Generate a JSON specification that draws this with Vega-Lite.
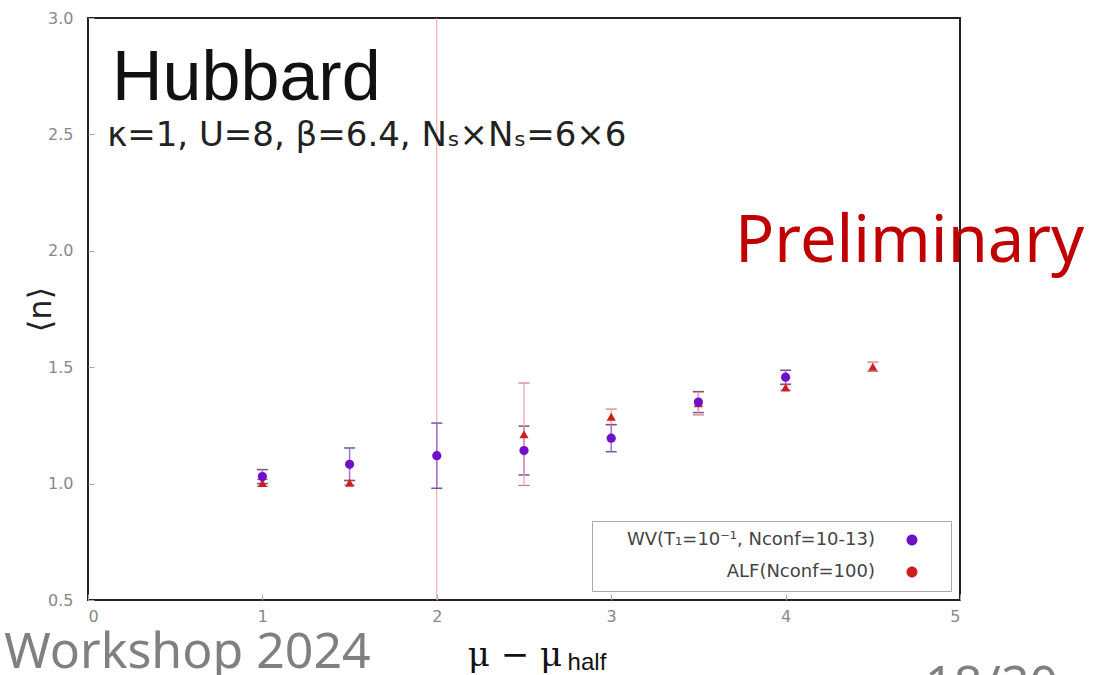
{
  "$schema": "https://vega.github.io/schema/vega-lite/v6.json",
  "width": 872,
  "height": 582,
  "autosize": "none",
  "padding": {"left": 88, "top": 18, "right": 154, "bottom": 75},
  "background": "white",
  "config": {
    "view": {"stroke": "#222", "strokeWidth": 2},
    "axis": {"domain": false, "grid": false, "labelFont": "DejaVu Sans", "labelColor": "#888", "labelFontSize": 16, "tickColor": "#aaa", "tickSize": -6}
  },
  "data": {"values": [
    {"series": "ALF(Nconf=100)", "x": 1.0, "y": 1.003, "err": 0.015},
    {"series": "ALF(Nconf=100)", "x": 1.5, "y": 1.004, "err": 0.01},
    {"series": "ALF(Nconf=100)", "x": 2.5, "y": 1.212, "err": 0.22},
    {"series": "ALF(Nconf=100)", "x": 3.0, "y": 1.287, "err": 0.033},
    {"series": "ALF(Nconf=100)", "x": 3.5, "y": 1.345, "err": 0.05},
    {"series": "ALF(Nconf=100)", "x": 4.0, "y": 1.413, "err": 0.012},
    {"series": "ALF(Nconf=100)", "x": 4.5, "y": 1.502, "err": 0.02},
    {"series": "WV(T₁=10⁻¹, Nconf=10-13)", "x": 1.0, "y": 1.03, "err": 0.03},
    {"series": "WV(T₁=10⁻¹, Nconf=10-13)", "x": 1.5, "y": 1.083, "err": 0.07},
    {"series": "WV(T₁=10⁻¹, Nconf=10-13)", "x": 2.0, "y": 1.12, "err": 0.14},
    {"series": "WV(T₁=10⁻¹, Nconf=10-13)", "x": 2.5, "y": 1.142, "err": 0.105},
    {"series": "WV(T₁=10⁻¹, Nconf=10-13)", "x": 3.0, "y": 1.195, "err": 0.058},
    {"series": "WV(T₁=10⁻¹, Nconf=10-13)", "x": 3.5, "y": 1.35, "err": 0.045},
    {"series": "WV(T₁=10⁻¹, Nconf=10-13)", "x": 4.0, "y": 1.457, "err": 0.03}
  ]},
  "layer": [
    {
      "data": {"values": [{"x": 2}]},
      "mark": {"type": "rule", "color": "#e8a0a0", "strokeWidth": 1},
      "encoding": {"x": {"field": "x", "type": "quantitative", "title": null}}
    },
    {
      "transform": [{"filter": "datum.series === 'WV(T₁=10⁻¹, Nconf=10-13)'"}],
      "mark": {"type": "errorbar", "ticks": {"color": "#3a0a70", "size": 11, "thickness": 1.5}, "rule": {"color": "#a070d8", "strokeWidth": 1.5}},
      "encoding": {
        "x": {"field": "x", "type": "quantitative", "title": null},
        "y": {"field": "y", "type": "quantitative", "title": "⟨n⟩"},
        "yError": {"field": "err"}
      }
    },
    {
      "transform": [{"filter": "datum.series === 'ALF(Nconf=100)'"}],
      "mark": {"type": "errorbar", "ticks": {"color": "#b04040", "size": 11, "thickness": 1.2}, "rule": {"color": "#eea0a8", "strokeWidth": 1.2}},
      "encoding": {
        "x": {"field": "x", "type": "quantitative", "title": null},
        "y": {"field": "y", "type": "quantitative", "title": "⟨n⟩"},
        "yError": {"field": "err"}
      }
    },
    {
      "mark": {"type": "point", "filled": true, "opacity": 1, "size": 85},
      "encoding": {
        "x": {"field": "x", "type": "quantitative", "scale": {"domain": [0, 5], "nice": false, "zero": false}, "axis": {"values": [0, 1, 2, 3, 4, 5], "format": "d", "labelPadding": 14}, "title": null},
        "y": {"field": "y", "type": "quantitative", "scale": {"domain": [0.5, 3.0], "nice": false, "zero": false}, "axis": {"values": [0.5, 1.0, 1.5, 2.0, 2.5, 3.0], "format": ".1f", "titleFont": "DejaVu Sans", "titleFontSize": 32, "titleFontWeight": "normal", "titleColor": "#222", "titlePadding": -10, "labelPadding": 21}, "title": "⟨n⟩"},
        "shape": {"condition": {"test": "datum.series === 'ALF(Nconf=100)'", "value": "triangle-up"}, "value": "circle"},
        "color": {"field": "series", "type": "nominal", "scale": {"domain": ["WV(T₁=10⁻¹, Nconf=10-13)", "ALF(Nconf=100)"], "range": ["#7010c8", "#cc2020"]},
          "legend": {
            "title": null, "orient": "bottom-right", "offset": 9, "direction": "vertical",
            "fillColor": "white", "strokeColor": "#aaa", "padding": 10,
            "labelFont": "DejaVu Sans", "labelFontSize": 18, "labelColor": "#444",
            "labelAlign": "right", "labelOffset": -46, "symbolOffset": 301, "symbolSize": 100, "rowPadding": 14,
            "labelLimit": 400,
            "symbolType": "M-5.8,0H5.8M-5.8,-0.8V0.8M5.8,-0.8V0.8M-1.1,0A1.1,1.1,0,1,0,1.1,0A1.1,1.1,0,1,0,-1.1,0Z",
            "symbolStrokeWidth": 1.2
          }}
      }
    },
    {
      "data": {"values": [{"t": "Hubbard"}]},
      "mark": {"type": "text", "align": "left", "baseline": "alphabetic", "font": "Liberation Sans", "fontSize": 70, "color": "#111"},
      "encoding": {"text": {"field": "t"}, "x": {"datum": 0.138, "type": "quantitative"}, "y": {"datum": 2.648, "type": "quantitative"}}
    },
    {
      "data": {"values": [{"t": "κ=1, U=8, β=6.4, Nₛ×Nₛ=6×6"}]},
      "mark": {"type": "text", "align": "left", "baseline": "alphabetic", "font": "DejaVu Sans", "fontSize": 34, "color": "#222"},
      "encoding": {"text": {"field": "t"}, "x": {"datum": 0.11, "type": "quantitative"}, "y": {"datum": 2.45, "type": "quantitative"}}
    },
    {
      "data": {"values": [{"t": "Preliminary"}]},
      "mark": {"type": "text", "align": "left", "baseline": "alphabetic", "font": "Noto Sans", "fontSize": 65, "color": "#c00000"},
      "encoding": {"text": {"field": "t"}, "x": {"datum": 3.71, "type": "quantitative"}, "y": {"datum": 1.952, "type": "quantitative"}}
    },
    {
      "data": {"values": [{"t": "Workshop 2024"}]},
      "mark": {"type": "text", "align": "left", "baseline": "alphabetic", "font": "Noto Sans", "fontSize": 50, "color": "#808080"},
      "encoding": {"text": {"field": "t"}, "x": {"datum": -0.48, "type": "quantitative"}, "y": {"datum": 0.21, "type": "quantitative"}}
    },
    {
      "data": {"values": [{"t": "18/20"}]},
      "mark": {"type": "text", "align": "left", "baseline": "alphabetic", "font": "Noto Sans", "fontSize": 50, "color": "#808080"},
      "encoding": {"text": {"field": "t"}, "x": {"datum": 4.8, "type": "quantitative"}, "y": {"datum": 0.068, "type": "quantitative"}}
    },
    {
      "data": {"values": [{"t": "μ − μ"}]},
      "mark": {"type": "text", "align": "center", "baseline": "alphabetic", "font": "DejaVu Serif", "fontSize": 34, "color": "#111"},
      "encoding": {"text": {"field": "t"}, "x": {"datum": 2.448, "type": "quantitative"}, "y": {"datum": 0.2165, "type": "quantitative"}}
    },
    {
      "data": {"values": [{"t": "half"}]},
      "mark": {"type": "text", "align": "left", "baseline": "alphabetic", "font": "Liberation Sans", "fontSize": 24, "color": "#111"},
      "encoding": {"text": {"field": "t"}, "x": {"datum": 2.75, "type": "quantitative"}, "y": {"datum": 0.2, "type": "quantitative"}}
    }
  ]
}
